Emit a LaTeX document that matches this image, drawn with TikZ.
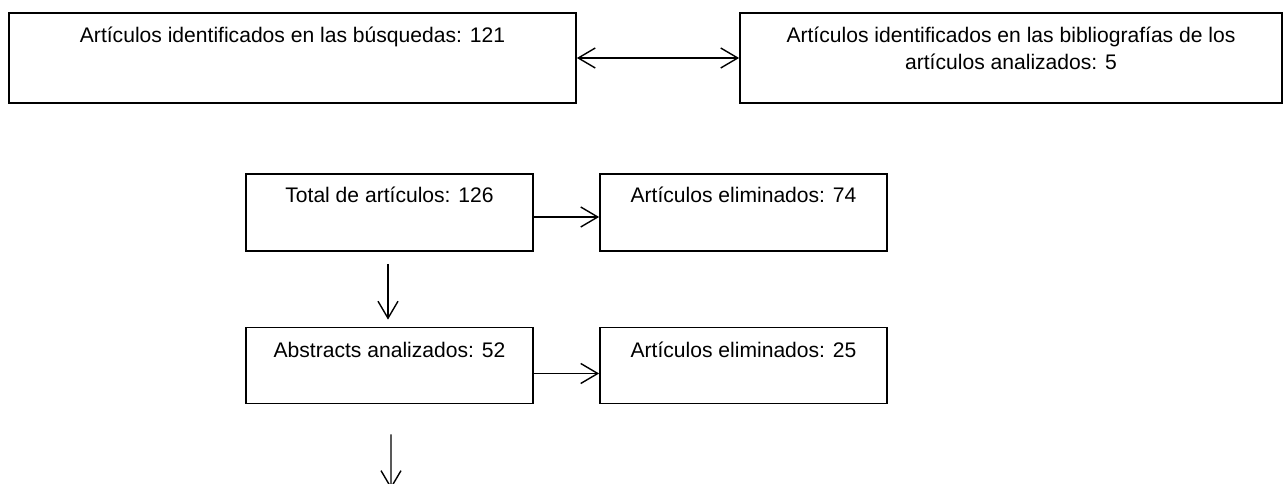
\documentclass[tikz,border=0pt]{standalone}
\usepackage{fontspec}
\setmainfont{Liberation Sans}
\usepackage{tikz}
\usetikzlibrary{arrows.meta,positioning}

\begin{document}
\begin{tikzpicture}[
    box/.style={draw, line width=1pt, minimum height=1.8cm, inner sep=0pt},
    txt/.style={anchor=north, inner sep=0pt, yshift=-8.4pt, align=center,
      font=\fontsize{12}{15.5}\selectfont},
    arr/.style={line width=0.8pt, -{Straight Barb[length=3.4mm, width=4mm]}},
    dbl/.style={line width=0.8pt, {Straight Barb[length=3.4mm, width=4mm]}-{Straight Barb[length=3.4mm, width=4mm]}}
  ]
    \clip (0,0) rectangle (25.68,-9.68);

    % search results
    \node[box, minimum width=11.34cm] (busq) at (5.85,-1.16) {};
    \node[txt] (busqtxt) at (busq.north) {Artículos identificados en las búsquedas: 121};
    \node[box, minimum width=10.84cm] (bibl) at (20.22,-1.16) {};
    \node[txt] (bibltxt) at (bibl.north) {Artículos identificados en las bibliografías de los\\artículos analizados: 5};
    \draw[dbl] (busq.east) -- (bibl.west);

    % screening
    \node[box, minimum width=5.74cm, minimum height=1.54cm] (total) at (7.79,-4.25) {};
    \node[txt, yshift=0.6pt] (totaltxt) at (total.north) {Total de artículos: 126};
    \node[box, minimum width=5.74cm, minimum height=1.54cm] (elim1) at (14.87,-4.25) {};
    \node[txt, yshift=0.6pt] (elim1txt) at (elim1.north) {Artículos eliminados: 74};

    \node[box, minimum width=5.74cm, minimum height=1.52cm] (abst) at (7.79,-7.31) {};
    \node[txt] (absttxt) at (abst.north) {Abstracts analizados: 52};
    \node[box, minimum width=5.74cm, minimum height=1.52cm] (elim2) at (14.87,-7.31) {};
    \node[txt] (elim2txt) at (elim2.north) {Artículos eliminados: 25};

    \coordinate (fin) at (7.82,-9.78);

    \draw[arr] ([yshift=-0.09cm]total.east) -- ([yshift=-0.09cm]elim1.west);
    \draw[arr] ([yshift=-0.16cm]abst.east) -- ([yshift=-0.16cm]elim2.west);
    \draw[arr, shorten <=0.24cm, shorten >=0.14cm] ([xshift=-0.03cm]total.south) -- ([xshift=-0.03cm]abst.north);
    \draw[arr, shorten <=0.6cm] ([xshift=0.03cm]abst.south) -- (fin);
  \end{tikzpicture}
\end{document}
